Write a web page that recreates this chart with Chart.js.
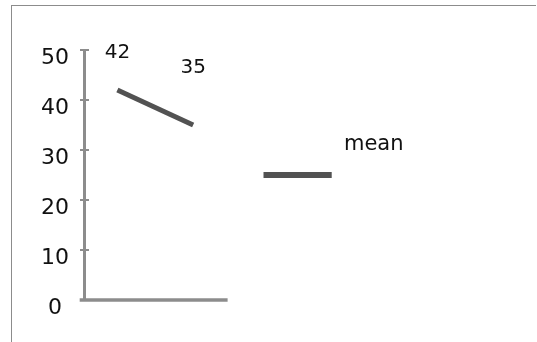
<!DOCTYPE html>
<html lang="en">
<head>
<meta charset="UTF-8">
<title>mean</title>
<script src="https://cdn.jsdelivr.net/npm/chart.js"></script>
<style>
    body { margin: 0; background: #fff; font-family: "DejaVu Sans", sans-serif; }
    #wrap { position: relative; width: 537px; height: 342px; overflow: hidden; }
    #frame {
        position: absolute; left: 11px; top: 5px; right: 1px; bottom: -2px;
        border-top: 1px solid #8c8c8c; border-left: 1px solid #8c8c8c;
    }
    canvas { position: absolute; left: 0; top: 0; }
</style>
</head>
<body>
<div id="wrap">
    <div id="frame"></div>
    <canvas id="chart" width="537" height="342"></canvas>
</div>
<script>
// series
const xPositions = [0.93, 3.04];
const values = [42, 35];
const labelLevels = [49.5, 46.4];   // where the value labels sit (y units)

// the "mean" mark
const meanValue = 25;
const meanSpan = [5, 6.9];
const meanLabel = 'mean';
const meanLabelAt = [8.07, 31];

// axes
const yTicks = [0, 10, 20, 30, 40, 50];
const xAxisSpan = [-0.12, 4];

const axisGrey = '#8c8c8c';
const lineGrey = '#525252';
const font = '"DejaVu Sans", sans-serif';

// axis line along the bottom, tick crossbars and text labels
const extras = {
    id: 'extras',
    beforeDatasetsDraw(chart) {
        const { ctx, chartArea, scales: { x, y } } = chart;
        ctx.save();
        ctx.strokeStyle = axisGrey;
        ctx.lineWidth = 2;
        yTicks.forEach(v => {
            const py = Math.round(y.getPixelForValue(v));
            ctx.beginPath();
            ctx.moveTo(chartArea.left - 4, py);
            ctx.lineTo(chartArea.left + 5, py);
            ctx.stroke();
        });
        ctx.lineWidth = 3.5;
        const y0 = y.getPixelForValue(0);
        ctx.beginPath();
        ctx.moveTo(x.getPixelForValue(xAxisSpan[0]), y0);
        ctx.lineTo(x.getPixelForValue(xAxisSpan[1]), y0);
        ctx.stroke();
        ctx.restore();
    },
    afterDatasetsDraw(chart) {
        const { ctx, scales: { x, y } } = chart;
        ctx.save();
        ctx.fillStyle = '#111';
        ctx.textAlign = 'center';
        ctx.textBaseline = 'middle';
        ctx.font = '20px ' + font;
        values.forEach((v, i) => {
            ctx.fillText(String(v), x.getPixelForValue(xPositions[i]), y.getPixelForValue(labelLevels[i]));
        });
        ctx.font = '21px ' + font;
        ctx.fillText(meanLabel, x.getPixelForValue(meanLabelAt[0]), y.getPixelForValue(meanLabelAt[1]));
        ctx.restore();
    }
};

new Chart(document.getElementById('chart'), {
    type: 'line',
    data: {
        datasets: [
            {
                label: 'values',
                data: xPositions.map((px, i) => ({ x: px, y: values[i] })),
                borderColor: lineGrey,
                borderWidth: 5,
                borderCapStyle: 'butt',
                pointRadius: 0,
                clip: false
            },
            {
                label: meanLabel,
                data: meanSpan.map(px => ({ x: px, y: meanValue })),
                borderColor: lineGrey,
                borderWidth: 6,
                borderCapStyle: 'butt',
                pointRadius: 0,
                clip: false
            }
        ]
    },
    options: {
        responsive: false,
        animation: false,
        layout: { padding: { left: 0, top: 50, right: 94, bottom: 42 } },
        plugins: {
            legend: { display: false },
            tooltip: { enabled: false }
        },
        scales: {
            x: { type: 'linear', min: 0, max: 10, display: false },
            y: {
                min: 0,
                max: 50,
                afterFit: scale => { scale.width = 84; },
                border: { display: true, color: axisGrey, width: 3 },
                grid: { drawOnChartArea: false, drawTicks: false, display: true, color: 'rgba(0,0,0,0)' },
                ticks: {
                    stepSize: 10,
                    padding: 15,
                    crossAlign: 'center',
                    labelOffset: 8,
                    color: '#111',
                    font: { family: font, size: 22 }
                }
            }
        }
    },
    plugins: [extras]
});
</script>
</body>
</html>
